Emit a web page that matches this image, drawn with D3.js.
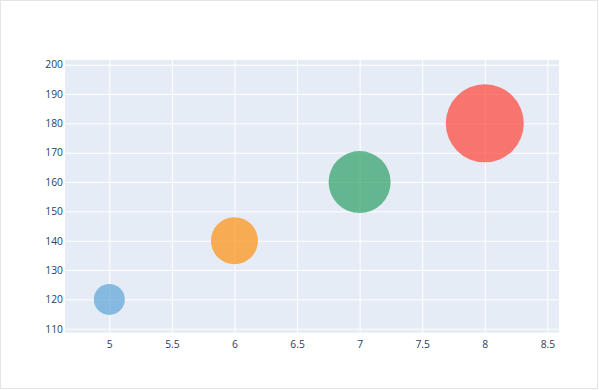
<!DOCTYPE html>
<html>
<head>
<meta charset="utf-8">
<script src="https://cdn.jsdelivr.net/npm/d3@7"></script>
<style>
    body { margin: 0; background: #fff; }
    svg { display: block; }
    .tick text { font-family: "Open Sans", sans-serif; font-size: 10.3px; fill: #2a3f5f; }
</style>
</head>
<body>
<svg id="chart"></svg>
<script>
// bubble data
const xVals = [5, 6, 7, 8];
const yVals = [120, 140, 160, 180];
const sizes = [31, 47, 62, 78];   // marker diameter
const bubbleColors = ['rgb(93, 164, 214)', 'rgb(255, 144, 14)', 'rgb(44, 160, 101)', 'rgb(255, 65, 54)'];

const xTicks = [5, 5.5, 6, 6.5, 7, 7.5, 8, 8.5];
const yTicks = [110, 120, 130, 140, 150, 160, 170, 180, 190, 200];

function draw() {
    let width = 599, height = 390;
    let plot = { left: 65, top: 60, right: 559, bottom: 332.7 };

    var svg = d3.select("#chart")
        .attr("width", width)
        .attr("height", height);

    // outer frame
    svg.append("rect")
        .attr("x", 0.5).attr("y", 0.5)
        .attr("width", width - 2).attr("height", height - 2)
        .attr("fill", "#fff")
        .attr("stroke", "#e4e4e4");

    var x = d3.scaleLinear().domain([4.646, 8.593]).range([plot.left, plot.right]);
    var y = d3.scaleLinear().domain([108.64, 201.6]).range([plot.bottom, plot.top]);
    var r = d3.scaleLinear().domain([0, 100]).range([0, 50]);

    svg.append("rect")
        .attr("x", plot.left).attr("y", plot.top)
        .attr("width", plot.right - plot.left)
        .attr("height", plot.bottom - plot.top)
        .attr("fill", "#E5ECF6");

    // gridlines + tick labels
    var xAxis = svg.append("g")
        .attr("transform", "translate(0," + plot.bottom + ")")
        .call(d3.axisBottom(x).tickValues(xTicks).tickSize(-(plot.bottom - plot.top)).tickPadding(8).tickFormat(d3.format("")));
    xAxis.select(".domain").remove();
    xAxis.selectAll("line").attr("stroke", "#fff").attr("stroke-width", 1);

    var yAxis = svg.append("g")
        .attr("transform", "translate(" + plot.left + ",0)")
        .call(d3.axisLeft(y).tickValues(yTicks).tickSize(-(plot.right - plot.left)).tickPadding(2));
    yAxis.select(".domain").remove();
    yAxis.selectAll("line").attr("stroke", "#fff").attr("stroke-width", 1);

    svg.append("g")
        .selectAll("circle")
        .data(xVals)
        .enter()
        .append("circle")
        .attr("cx", function(d) { return x(d); })
        .attr("cy", function(d, i) { return y(yVals[i]); })
        .attr("r", function(d, i) { return r(sizes[i]); })
        .attr("fill", function(d, i) { return bubbleColors[i]; })
        .attr("fill-opacity", 0.7);
}

draw();
</script>
</body>
</html>
